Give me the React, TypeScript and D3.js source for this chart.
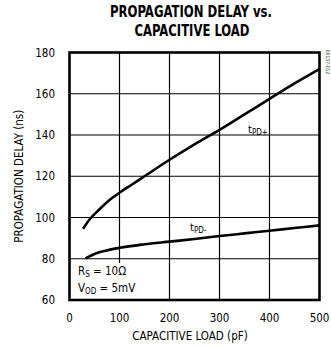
import React from "react";
import * as d3 from "d3";

const xTicks = [0, 100, 200, 300, 400, 500];
const yTicks = [60, 80, 100, 120, 140, 160, 180];

const tpdPlusC = [27, 40, 60, 80, 100, 125, 150, 200, 250, 300, 350, 400, 450, 500];
const tpdPlusV = [94.5, 99, 104, 108.5, 112, 116, 120, 128, 135.5, 142.5, 150, 157.5, 165, 172];

const tpdMinusC = [32, 50, 70, 100, 150, 200, 250, 300, 350, 400, 450, 500];
const tpdMinusV = [80.2, 82.3, 83.8, 85.3, 87, 88.3, 89.6, 91, 92.3, 93.6, 94.9, 96.2];

const FONT = "'Liberation Sans Narrow', 'DejaVu Sans Condensed', 'Arial Narrow', sans-serif";

export default function App() {
  const W = 331, H = 347;
  const L = 69.5, R = 319.5, T = 52.5, B = 300;
  const x = d3.scaleLinear().domain([0, 500]).range([L, R]);
  const y = d3.scaleLinear().domain([60, 180]).range([B, T]);
  const line = d3.line<[number, number]>().x(d => x(d[0])).y(d => y(d[1])).curve(d3.curveMonotoneX);
  const plus = tpdPlusC.map((c, i) => [c, tpdPlusV[i]] as [number, number]);
  const minus = tpdMinusC.map((c, i) => [c, tpdMinusV[i]] as [number, number]);

  return (
    <svg width={W} height={H} style={{ position: "absolute", left: 0, top: 0, background: "#fff" }} fontFamily={FONT}>
      <rect width={W} height={H} fill="#fff" />
      <text x={191} y={17} textAnchor="middle" fontSize={15} fontWeight="bold" textLength={162} lengthAdjust="spacingAndGlyphs">PROPAGATION DELAY vs.</text>
      <text x={192} y={36} textAnchor="middle" fontSize={15} fontWeight="bold" textLength={115} lengthAdjust="spacingAndGlyphs">CAPACITIVE LOAD</text>

      {xTicks.slice(1, -1).map(t => (
        <line key={"gx" + t} x1={x(t)} x2={x(t)} y1={T} y2={B} stroke="#000" strokeWidth={1.2} />
      ))}
      {yTicks.slice(1, -1).map(t => (
        <line key={"gy" + t} x1={L} x2={R} y1={y(t)} y2={y(t)} stroke="#000" strokeWidth={1.2} />
      ))}

      <rect x={L} y={263} width={76} height={B - 263} fill="#fff" />

      <path d={line(plus) || ""} fill="none" stroke="#000" strokeWidth={2.6} />
      <path d={line(minus) || ""} fill="none" stroke="#000" strokeWidth={2.6} />

      <rect x={L} y={T} width={R - L} height={B - T} fill="none" stroke="#000" strokeWidth={2.6} />

      {yTicks.map(t => (
        <text key={"ty" + t} x={55} y={y(t) + 4} textAnchor="end" fontSize={11.5}>{t}</text>
      ))}
      {xTicks.map(t => (
        <text key={"tx" + t} x={x(t)} y={322} textAnchor="middle" fontSize={11.5}>{t}</text>
      ))}

      <text x={190} y={340} textAnchor="middle" fontSize={11.5}>CAPACITIVE LOAD (pF)</text>
      <text transform={`translate(23,${(T + B) / 2}) rotate(-90)`} textAnchor="middle" fontSize={11.5}>PROPAGATION DELAY (ns)</text>

      <text x={248} y={133} fontSize={11}>t<tspan fontSize={8} dy={2}>PD+</tspan></text>
      <text x={190} y={231} fontSize={11}>t<tspan fontSize={8} dy={2}>PD-</tspan></text>

      <text x={78} y={275} fontSize={11.5}>R<tspan fontSize={8} dy={2}>S</tspan><tspan dy={-2}> = 10Ω</tspan></text>
      <text x={78} y={292} fontSize={11.5}>V<tspan fontSize={8} dy={2}>OD</tspan><tspan dy={-2}> = 5mV</tspan></text>

      <text transform="translate(326,62) rotate(90)" fontSize={5} textAnchor="middle" fill="#333">06137-012</text>
    </svg>
  );
}
